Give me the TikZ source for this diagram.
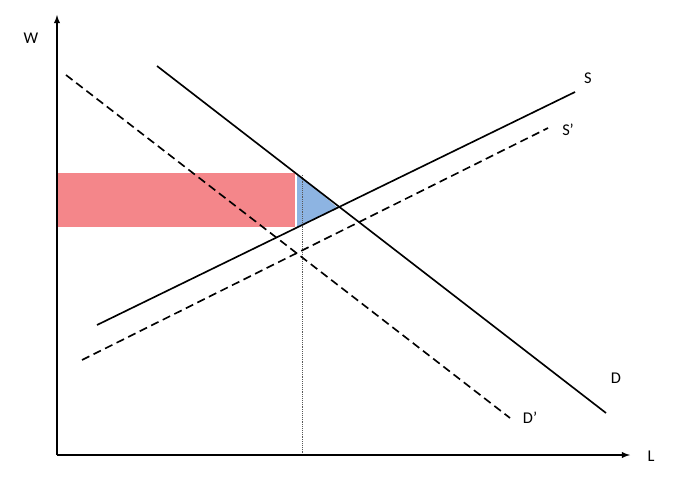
\documentclass[tikz,border=0pt]{standalone}
\usepackage{fontspec}
\setmainfont{Carlito}
\begin{document}
\begin{tikzpicture}[x=0.03cm,y=-0.03cm,
  ln/.style={line width=1.4pt},
  lbl/.style={font=\fontsize{14}{16}\selectfont}]
\useasboundingbox (0,0) rectangle (678,483);
\definecolor{redf}{HTML}{F4868A}
\definecolor{bluef}{HTML}{8DB4E2}
\fill[redf] (57,173) rectangle (295,227);
\fill[bluef] (297,173.5) -- (338,208) -- (297,227.5) -- cycle;
\draw[gray!70!black, densely dotted, line width=0.6pt] (302,175) -- (302,455);
\coordinate (S1) at (97,325); \coordinate (S2) at (575,92);
\coordinate (Sp1) at (82,360); \coordinate (Sp2) at (548,128);
\coordinate (D1) at (157,66); \coordinate (D2) at (606,413);
\coordinate (Dp1) at (66,75); \coordinate (Dp2) at (510,418);
\draw[ln] (S1) -- (S2);
\draw[ln,dashed,dash pattern=on 7pt off 4pt] (Sp1) -- (Sp2);
\draw[ln] (D1) -- (D2);
\draw[ln,dashed,dash pattern=on 7pt off 4pt] (Dp1) -- (Dp2);
\coordinate (O) at (57,455); \coordinate (Wt) at (57,15); \coordinate (Lt) at (630,455);
\draw[ln,-latex] (O) -- (Wt);
\draw[ln,-latex] (O) -- (Lt);
\node[lbl] (W) at (31,38) {W};
\node[lbl] (L) at (651,456) {L};
\node[lbl] (S) at (588,78) {S};
\node[lbl] (Sp) at (568,130) {S’};
\node[lbl] (D) at (616,378) {D};
\node[lbl] (Dp) at (530,418) {D’};
\end{tikzpicture}
\end{document}
